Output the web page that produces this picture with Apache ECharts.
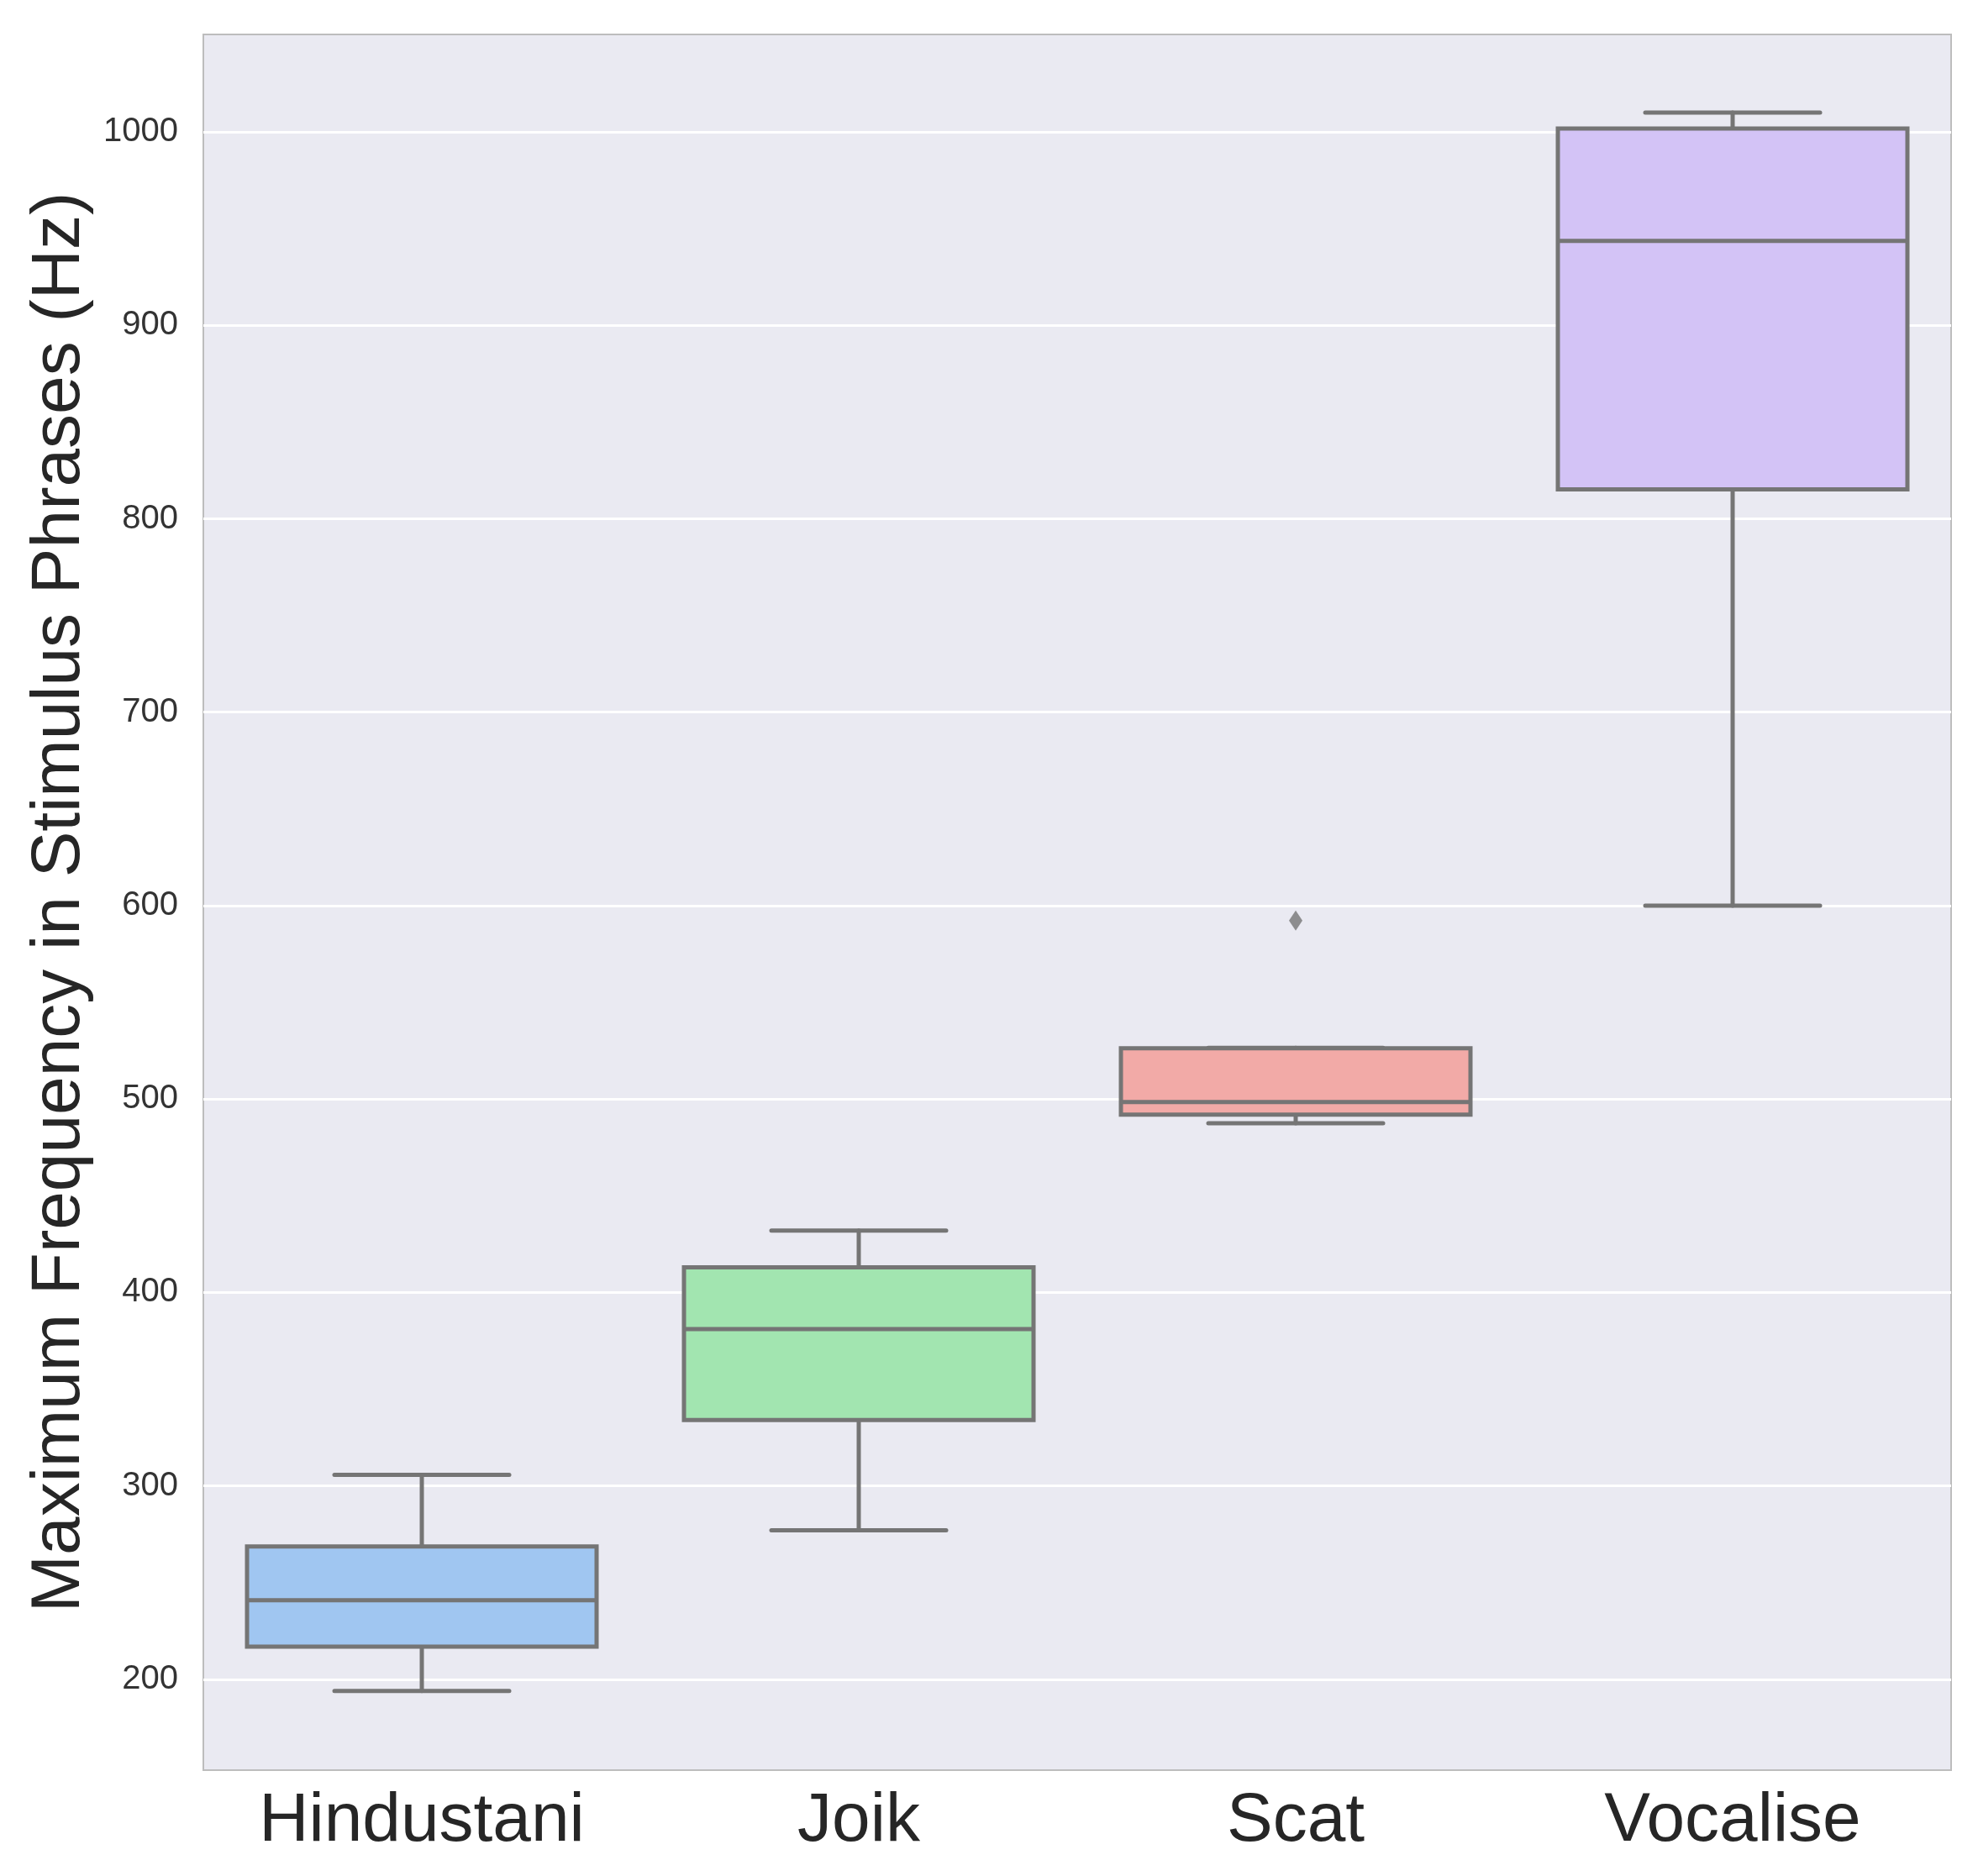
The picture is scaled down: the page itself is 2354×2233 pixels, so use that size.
<!DOCTYPE html>
<html>
<head>
<meta charset="utf-8">
<script src="https://cdn.jsdelivr.net/npm/echarts@6/dist/echarts.min.js"></script>
<style>
  html, body { margin: 0; padding: 0; background: #fff; }
  #chart { width: 2354px; height: 2233px; }
</style>
</head>
<body>
<div id="chart"></div>
<script>
// box plot summary
const categories = ['Hindustani', 'Joik', 'Scat', 'Vocalise'];
const lowerWhisker = [193.9, 277, 487.5, 600];
const q1 = [216.9, 334, 491.9, 815.2];
const median = [240.8, 381, 498.4, 943.7];
const q3 = [268.6, 413, 526.2, 1001.7];
const upperWhisker = [305.7, 432, 526.4, 1010];
// outliers: [category index, value]
const outliers = [[2, 592.2]];
const yTicks = [200, 300, 400, 500, 600, 700, 800, 900, 1000];

const boxColors = ['#a0c6f1', '#a2e5b0', '#f2aaa7', '#d3c3f6'];
const lineGray = '#757575';
const fontFamily = 'Liberation Sans, Arial, sans-serif';

const boxData = categories.map((c, i) => [i, lowerWhisker[i], q1[i], median[i], q3[i], upperWhisker[i]]);

// seaborn-like box: caps are half the box width
function renderBox(params, api) {
  const i = api.value(0);
  const half = api.size([1, 0])[0] * 0.4;
  const cap = half / 2;
  const pt = k => api.coord([i, api.value(k)]);
  const lo = pt(1), b1 = pt(2), md = pt(3), b3 = pt(4), hi = pt(5);
  const x = lo[0];
  const st = { stroke: lineGray, lineWidth: 5, lineCap: 'round' };
  return {
    type: 'group',
    children: [
      { type: 'line', shape: { x1: x, y1: lo[1], x2: x, y2: b1[1] }, style: st },
      { type: 'line', shape: { x1: x, y1: b3[1], x2: x, y2: hi[1] }, style: st },
      { type: 'line', shape: { x1: x - cap, y1: lo[1], x2: x + cap, y2: lo[1] }, style: st },
      { type: 'line', shape: { x1: x - cap, y1: hi[1], x2: x + cap, y2: hi[1] }, style: st },
      {
        type: 'rect',
        shape: { x: x - half, y: b3[1], width: half * 2, height: b1[1] - b3[1] },
        style: { fill: boxColors[i], stroke: lineGray, lineWidth: 5 }
      },
      { type: 'line', shape: { x1: x - half, y1: md[1], x2: x + half, y2: md[1] }, style: { stroke: lineGray, lineWidth: 5 } }
    ]
  };
}

const chart = echarts.init(document.getElementById('chart'));
chart.setOption({
  backgroundColor: '#ffffff',
  animation: false,
  grid: {
    left: 242, top: 41, right: 32, bottom: 126,
    show: true,
    backgroundColor: '#EAEAF2',
    borderColor: '#bdbdbd',
    borderWidth: 2
  },
  xAxis: {
    type: 'category',
    data: categories,
    axisLine: { show: false },
    axisTick: { show: false },
    splitLine: { show: false },
    axisLabel: {
      color: '#262626',
      fontFamily: fontFamily,
      fontSize: 82,
      lineHeight: 82,
      margin: 20
    }
  },
  yAxis: {
    type: 'value',
    min: 153,
    max: 1050.4,
    splitNumber: 9,
    name: 'Maximum Frequency in Stimulus Phrases (Hz)',
    nameLocation: 'middle',
    nameRotate: 90,
    nameGap: 118,
    nameTextStyle: { color: '#262626', fontFamily: fontFamily, fontSize: 82 },
    axisLine: { show: false },
    axisTick: { show: false },
    axisLabel: {
      color: '#333333',
      fontFamily: fontFamily,
      fontSize: 40,
      margin: 30,
      showMinLabel: false,
      showMaxLabel: false,
      formatter: v => (yTicks.includes(v) ? String(v) : '')
    },
    splitLine: {
      show: true,
      showMinLine: false,
      showMaxLine: false,
      lineStyle: { color: '#ffffff', width: 3 }
    }
  },
  series: [
    {
      type: 'custom',
      renderItem: renderBox,
      data: boxData,
      encode: { x: 0, y: [1, 2, 3, 4, 5] },
      z: 3
    },
    {
      type: 'scatter',
      data: outliers,
      symbol: 'diamond',
      symbolSize: [16, 24],
      itemStyle: { color: lineGray },
      z: 4
    }
  ]
});
</script>
</body>
</html>
